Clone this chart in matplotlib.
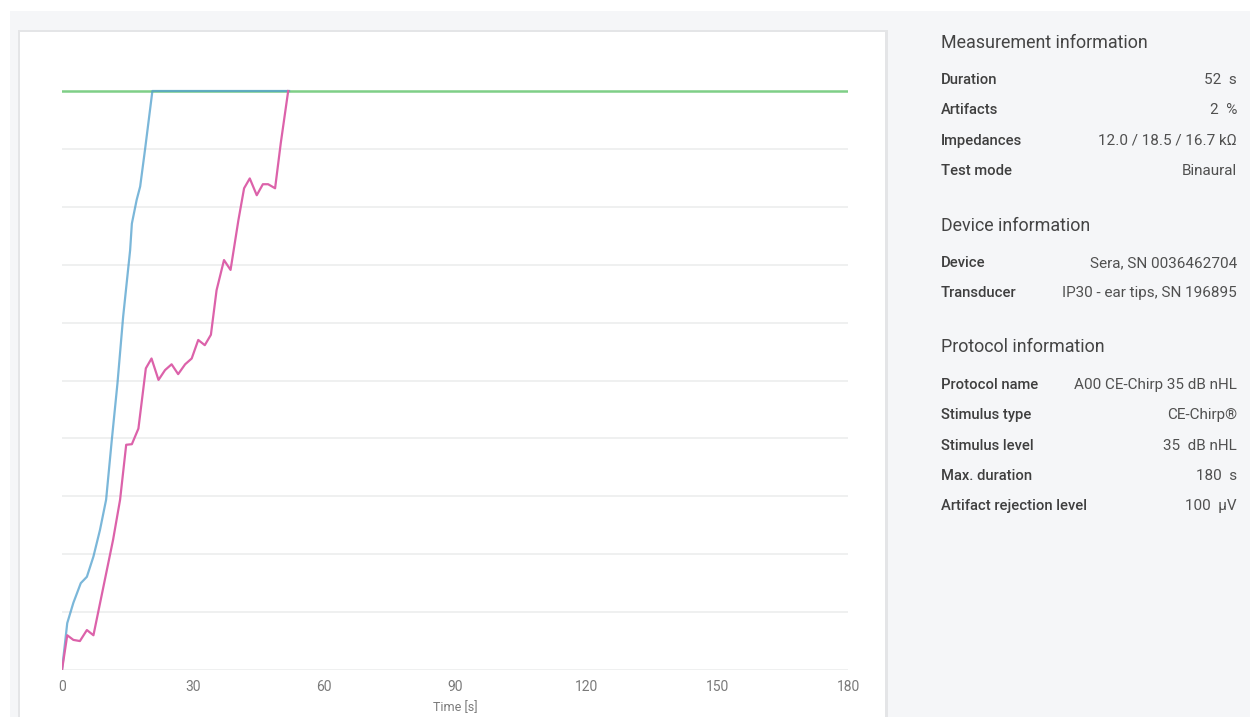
import matplotlib.pyplot as plt
from matplotlib.patches import Rectangle

# time [s] and response values for the two ears
blue_t = [0, 1.2, 2.6, 4.3, 5.7, 7.2, 8.7, 10.1, 11.4, 12.7, 14.0, 15.6, 16.0, 17.1, 17.9, 19.0, 20.7, 52]
blue_y = [0, 8.1, 11.6, 15.0, 16.1, 19.6, 24.2, 29.4, 39.7, 49.5, 61.0, 72.5, 77.1, 81.2, 83.5, 89.8, 100, 100]

pink_t = [0, 1.2, 2.6, 4.1, 5.7, 7.2, 8.7, 11.7, 13.3, 14.7, 16.0, 17.5, 19.2, 20.5, 22.1, 23.6, 25.1,
          26.6, 28.2, 29.7, 31.2, 32.7, 34.1, 35.4, 37.1, 38.6, 40.4, 41.7, 43.0, 44.6, 46.0, 47.2,
          48.8, 50.1, 51.8]
pink_y = [0, 6.0, 5.2, 5.0, 6.9, 6.0, 11.5, 22.5, 29.4, 38.9, 39.0, 41.7, 52.1, 53.8, 50.1, 51.8, 52.8,
          51.1, 52.8, 53.8, 57.0, 56.1, 57.9, 65.6, 70.8, 69.1, 77.7, 83.2, 84.9, 82.0, 83.9, 83.9,
          83.2, 91.0, 100]

threshold = 100
x_ticks = [0, 30, 60, 90, 120, 150, 180]

measurement_info = [("Duration", "52  s"), ("Artifacts", "2  %"),
                    ("Impedances", "12.0 / 18.5 / 16.7 k\u03a9"), ("Test mode", "Binaural")]
device_info = [("Device", "Sera, SN 0036462704"), ("Transducer", "IP30 - ear tips, SN 196895")]
protocol_info = [("Protocol name", "A00 CE-Chirp 35 dB nHL"), ("Stimulus type", "CE-Chirp\u00ae"),
                 ("Stimulus level", "35  dB nHL"), ("Max. duration", "180  s"),
                 ("Artifact rejection level", "100  \u00b5V")]

W, H = 1250, 717
fig = plt.figure(figsize=(W / 100, H / 100), dpi=100)
fig.patch.set_facecolor("white")

def px_rect(x0, y0, x1, y1, **kw):
    # rectangle given in pixel coords (top-left origin)
    fig.patches.append(Rectangle((x0 / W, 1 - y1 / H), (x1 - x0) / W, (y1 - y0) / H,
                                 transform=fig.transFigure, zorder=-10, **kw))

px_rect(10, 11, W, H, facecolor="#f5f6f8", edgecolor="none")
px_rect(18, 30, 888, H, facecolor="#e4e5e7", edgecolor="none")
px_rect(20, 32, 885, H, facecolor="white", edgecolor="none")

# axes: x 0..180 from px 62 to 848, y 0..100 from px 670 to 91
ppu = (670 - 91) / 100
ymax = 103
top_px = 670 - ymax * ppu
ax = fig.add_axes([62 / W, 1 - 670 / H, (848 - 62) / W, (670 - top_px) / H])
ax.set_facecolor("none")
ax.set_xlim(0, 180)
ax.set_ylim(0, ymax)
for s in ax.spines.values():
    s.set_visible(False)
ax.set_yticks(range(0, 100, 10))
ax.set_yticklabels([])
ax.tick_params(axis="y", length=0)
ax.grid(axis="y", color="#eceeee", linewidth=1.2)
ax.set_xticks(x_ticks)
ax.tick_params(axis="x", length=0, pad=7, labelsize=10, labelcolor="#7a7a7a")
for lab in ax.get_xticklabels():
    lab.set_fontfamily("Roboto")
ax.set_xlabel("Time [s]", fontsize=9, color="#7a7a7a", family="Roboto", labelpad=5)

ax.axhline(threshold, color="#7fcf87", linewidth=1.8, zorder=2)
ax.plot(blue_t, blue_y, color="#4f9fcd", linewidth=1.6, zorder=3, alpha=0.75)
ax.plot(pink_t, pink_y, color="#dc62aa", linewidth=1.6, zorder=4)

# info panel on the right
lx, rx = 941 / W, 1237 / W

def ptxt(x, ypx, s, **kw):
    fig.text(x, 1 - ypx / H, s, va="center", family="Roboto", **kw)

def section(title, ytitle, rows, yfirst):
    ptxt(lx, ytitle, title, fontsize=12.9, color="#444444")
    for i, (k, v) in enumerate(rows):
        y = yfirst + i * 30.3
        ptxt(lx, y, k, fontsize=10.6, color="#3f3f3f", fontweight="medium")
        ptxt(rx, y, v, fontsize=11, color="#505050", ha="right")

section("Measurement information", 43, measurement_info, 80)
section("Device information", 226, device_info, 263)
section("Protocol information", 347, protocol_info, 385)

fig.savefig("out.png", dpi=100)
